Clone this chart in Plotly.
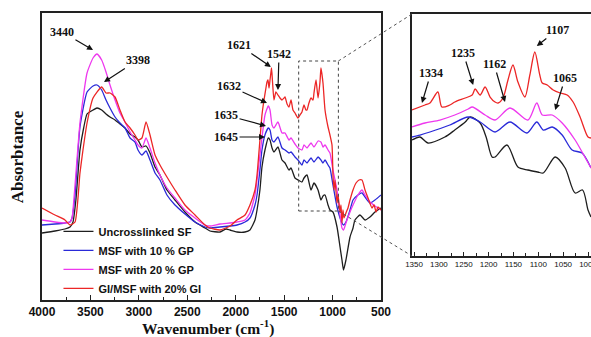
import plotly.graph_objects as go

# ---------------- main spectra (wavenumber, absorbance a.u.) ----------------
wn_sf = [4000, 3866, 3763, 3711, 3680, 3650, 3608, 3570, 3535, 3473, 3432, 3384, 3339, 3298, 3246, 3195,
         3143, 3091, 3040, 3009, 2968, 2926, 2885, 2833, 2782, 2710, 2627, 2524, 2420, 2317, 2266, 2162,
         2100, 2059, 1987, 1904, 1853, 1801, 1780, 1750, 1729, 1698, 1664, 1646, 1625, 1605, 1564, 1522,
         1491, 1450, 1429, 1388, 1357, 1316, 1295, 1264, 1223, 1192, 1150, 1120, 1099, 1078, 1047, 1027,
         996, 954, 923, 903, 887, 862, 820, 789, 769, 717, 665, 614, 562, 500]
ab_sf = [67, 69, 71, 73, 78, 100, 150, 172, 186, 190, 192, 190, 186, 183, 180, 176,
         172, 166, 163, 160, 153, 154, 147, 133, 125, 110, 100, 88, 78, 72, 69, 68,
         71, 70, 68, 68, 70, 80, 90, 110, 133, 150, 162, 160, 152, 148, 153, 140,
         137, 130, 132, 122, 120, 118, 122, 125, 110, 117, 110, 100, 104, 105, 95, 90,
         88, 73, 53, 40, 30, 40, 63, 72, 80, 85, 80, 83, 88, 92]

wn_gp10 = [4000, 3866, 3763, 3711, 3690, 3659, 3608, 3535, 3473, 3432, 3384, 3339, 3298, 3246, 3195, 3143,
           3091, 3040, 3009, 2968, 2926, 2885, 2833, 2782, 2710, 2627, 2524, 2420, 2317, 2266, 2162, 2059,
           1987, 1904, 1853, 1801, 1780, 1750, 1729, 1698, 1664, 1646, 1625, 1605, 1564, 1522, 1491, 1450,
           1429, 1388, 1357, 1316, 1295, 1264, 1223, 1192, 1150, 1120, 1099, 1078, 1047, 1027, 996, 954,
           903, 887, 862, 820, 789, 738, 696, 665, 614, 562, 500]
ab_gp10 = [75, 76, 77, 78, 82, 105, 173, 208, 214, 215, 210, 200, 192, 183, 177, 172,
           162, 158, 150, 145, 149, 140, 127, 120, 105, 95, 86, 78, 73, 72, 73, 74,
           75, 78, 82, 95, 105, 130, 150, 165, 172, 170, 160, 158, 163, 152, 150, 147,
           148, 143, 140, 135, 140, 137, 142, 138, 143, 140, 137, 140, 135, 132, 115, 93,
           77, 75, 78, 90, 100, 105, 107, 103, 97, 100, 105]

wn_gp20 = [4000, 3866, 3763, 3711, 3690, 3659, 3608, 3535, 3473, 3432, 3384, 3339, 3298, 3246, 3195, 3143,
           3091, 3040, 3009, 2968, 2926, 2885, 2833, 2782, 2710, 2627, 2524, 2420, 2317, 2266, 2162, 2059,
           1987, 1904, 1853, 1801, 1780, 1750, 1729, 1698, 1664, 1646, 1625, 1605, 1564, 1522, 1491, 1450,
           1429, 1388, 1357, 1316, 1295, 1264, 1223, 1192, 1150, 1120, 1099, 1078, 1047, 1027, 996, 954,
           923, 903, 887, 862, 820, 789, 738, 696, 665, 614, 562, 500]
ab_gp20 = [80, 78, 77, 78, 82, 115, 177, 227, 242, 246, 240, 228, 215, 200, 187, 178,
           168, 160, 155, 152, 162, 152, 137, 125, 112, 102, 90, 82, 75, 74, 76, 77,
           78, 80, 87, 105, 120, 145, 162, 185, 194, 190, 175, 172, 178, 167, 167, 160,
           162, 156, 152, 150, 155, 152, 157, 153, 159, 158, 153, 155, 150, 147, 130, 110,
           85, 72, 70, 77, 88, 95, 105, 110, 105, 98, 94, 90]

wn_gi = [4000, 3866, 3763, 3711, 3659, 3608, 3577, 3535, 3473, 3384, 3339, 3298, 3246, 3195, 3143, 3091,
         3040, 3009, 2968, 2926, 2885, 2833, 2782, 2710, 2627, 2524, 2420, 2317, 2266, 2162, 2059, 1987,
         1904, 1853, 1801, 1780, 1750, 1729, 1708, 1688, 1677, 1667, 1656, 1646, 1636, 1630, 1620, 1605,
         1585, 1564, 1543, 1522, 1501, 1491, 1470, 1450, 1429, 1409, 1388, 1357, 1336, 1316, 1295, 1275,
         1264, 1244, 1223, 1202, 1192, 1171, 1150, 1130, 1120, 1099, 1078, 1047, 1027, 1006, 996, 985,
         975, 954, 944, 923, 913, 903, 893, 882, 862, 841, 820, 789, 758, 727, 696, 665, 634, 593, 572,
         551, 531, 500]
ab_gi = [92, 85, 80, 75, 78, 127, 150, 177, 202, 213, 207, 207, 203, 190, 178, 172,
         165, 160, 162, 178, 165, 145, 135, 123, 110, 95, 85, 75, 72, 70, 74, 80,
         85, 95, 110, 125, 160, 185, 200, 212, 218, 220, 212, 220, 228, 232, 218, 200,
         208, 205, 202, 200, 202, 203, 196, 193, 200, 190, 187, 182, 185, 188, 195, 190,
         190, 197, 202, 200, 207, 220, 202, 218, 232, 217, 190, 173, 165, 155, 125, 110,
         120, 97, 105, 88, 95, 77, 90, 82, 87, 92, 100, 110, 117, 120, 120, 110, 102, 92, 95,
         88, 93, 90]

# ---------------- inset spectra (1350-1000 cm-1) ----------------
wn_in_sf = [1354, 1338, 1322, 1288, 1268, 1247, 1237, 1217, 1205, 1193, 1187, 1163, 1141, 1121, 1101,
            1090, 1066, 1046, 1026, 1011, 1000, 994]
ab_in_sf = [116, 119, 113, 119, 126, 134, 139, 133, 119, 99, 99, 111, 89, 86, 84,
            83, 99, 88, 63, 66, 46, 39]

wn_in_gp10 = [1354, 1338, 1318, 1278, 1241, 1217, 1187, 1157, 1123, 1103, 1090, 1072, 1052, 1032, 1012, 994]
ab_in_gp10 = [119, 121, 124, 131, 139, 134, 124, 134, 123, 134, 126, 129, 121, 106, 103, 88]

wn_in_gp20 = [1354, 1328, 1298, 1268, 1241, 1233, 1207, 1187, 1157, 1121, 1103, 1092, 1072, 1052, 1026, 1012, 994]
ab_in_gp20 = [129, 133, 136, 141, 147, 149, 141, 136, 148, 136, 153, 141, 141, 133, 116, 104, 88]

wn_in_gi = [1354, 1328, 1318, 1302, 1294, 1278, 1268, 1247, 1233, 1227, 1217, 1207, 1197, 1187, 1181,
            1171, 1161, 1151, 1141, 1127, 1117, 1107, 1097, 1092, 1082, 1070, 1056, 1042, 1030, 1016,
            1000, 994]
ab_in_gi = [146, 151, 153, 164, 149, 151, 154, 158, 161, 167, 161, 169, 159, 154, 153,
            158, 176, 191, 174, 159, 181, 204, 181, 173, 171, 166, 163, 161, 154, 139,
            119, 118]

names = ["Uncrosslinked SF", "MSF with 10 % GP", "MSF with 20 % GP", "GI/MSF with 20% GI"]
colors = ["#1e1e1e", "#2a2ad8", "#ee38ee", "#ec2626"]

main_x = [wn_sf, wn_gp10, wn_gp20, wn_gi]
main_y = [ab_sf, ab_gp10, ab_gp20, ab_gi]
in_x = [wn_in_sf, wn_in_gp10, wn_in_gp20, wn_in_gi]
in_y = [ab_in_sf, ab_in_gp10, ab_in_gp20, ab_in_gi]

# peak labels: (label, head wn, head y, text wn, text y)
main_peaks = [("3440", 3473, 250, 3794, 268),
              ("3398", 3360, 218, 3009, 240),
              ("1621", 1636, 233, 1966, 255),
              ("1542", 1564, 210, 1553, 246),
              ("1632", 1677, 197, 2069, 214),
              ("1635", 1687, 174, 2100, 185),
              ("1645", 1698, 163, 2100, 163)]
inset_peaks = [("1334", 1334, 153, 1316, 183),
               ("1235", 1231, 171, 1251, 203),
               ("1162", 1167, 154, 1189, 192),
               ("1107", 1103, 210, 1062, 226),
               ("1065", 1066, 146, 1046, 178)]

# zoom box in main axes
box_wn = [1350, 940]
box_ab = [89, 239]

W, H = 591, 337
ML, MR, MT, MB = 42, 0, 13, 37
main_xdom = [0, 0.6175]
main_xrange = [4000, 500]
main_yrange = [0, 287]
in_xdom = [0.674, 1.0]
in_ydom = [0.1533, 0.9965]
in_xrange = [1354, 994]
in_yrange = [0, 242]

fig = go.Figure()
for n, c, x, y in zip(names, colors, main_x, main_y):
    fig.add_trace(go.Scatter(x=x, y=y, mode="lines", name=n,
                             line=dict(color=c, width=1.3, shape="spline", smoothing=0.5),
                             xaxis="x", yaxis="y"))
for n, c, x, y in zip(names, colors, in_x, in_y):
    fig.add_trace(go.Scatter(x=x, y=y, mode="lines", name=n, showlegend=False,
                             line=dict(color=c, width=1.3, shape="spline", smoothing=0.8),
                             xaxis="x2", yaxis="y2"))

serif = dict(family="Liberation Serif, Times New Roman, serif", weight="bold", color="#111")
sans = dict(family="Liberation Sans, Arial, sans-serif", weight="bold", color="#111")

ann = []
for lab, hx, hy, tx, ty in main_peaks:
    ann.append(dict(x=hx, y=hy, ax=tx, ay=ty, xref="x", yref="y", axref="x", ayref="y",
                    text=lab, showarrow=True, arrowhead=2, arrowsize=1, arrowwidth=1.2,
                    arrowcolor="#111", font=dict(size=12, **serif)))
for lab, hx, hy, tx, ty in inset_peaks:
    ann.append(dict(x=hx, y=hy, ax=tx, ay=ty, xref="x2", yref="y2", axref="x2", ayref="y2",
                    text=lab, showarrow=True, arrowhead=2, arrowsize=1, arrowwidth=1.2,
                    arrowcolor="#111", font=dict(size=12, **serif)))

ann.append(dict(text="Wavenumber (cm<sup>-1</sup>)", xref="paper", yref="paper",
                x=0.302, y=-0.095, xanchor="center", yanchor="middle",
                showarrow=False, font=dict(size=15.5, **serif)))
ann.append(dict(text="Absorbtance", xref="paper", yref="paper", x=-0.044, y=0.5,
                textangle=-90, xanchor="center", yanchor="middle",
                showarrow=False, font=dict(size=17, **serif)))


def px_main(wn):
    return main_xdom[0] + (main_xrange[0] - wn) / (main_xrange[0] - main_xrange[1]) * (main_xdom[1] - main_xdom[0])


def py_main(a):
    return (a - main_yrange[0]) / (main_yrange[1] - main_yrange[0])


shapes = [
    dict(type="rect", xref="x", yref="y", x0=box_wn[0], x1=box_wn[1], y0=box_ab[0], y1=box_ab[1],
         line=dict(color="#444", width=1, dash="dot")),
    dict(type="line", xref="paper", yref="paper", x0=px_main(box_wn[1]), y0=py_main(box_ab[1]),
         x1=in_xdom[0], y1=in_ydom[1], line=dict(color="#555", width=1, dash="dot")),
    dict(type="line", xref="paper", yref="paper", x0=px_main(box_wn[1]), y0=py_main(box_ab[0]),
         x1=in_xdom[0], y1=in_ydom[0], line=dict(color="#555", width=1, dash="dot")),
]

fig.update_layout(
    width=W, height=H, margin=dict(l=ML, r=MR, t=MT, b=MB, autoexpand=False),
    paper_bgcolor="white", plot_bgcolor="white",
    showlegend=True,
    legend=dict(x=0.03, y=-0.01, xanchor="left", yanchor="bottom", bgcolor="rgba(0,0,0,0)",
                font=dict(size=11, **sans), tracegroupgap=0),
    xaxis=dict(domain=main_xdom, range=main_xrange, anchor="y", showline=True, mirror=True,
               linecolor="#222", linewidth=1.5, ticks="inside", ticklen=5, tickwidth=1.2,
               tickcolor="#222", tick0=0, dtick=500, automargin=False,
               minor=dict(dtick=250, ticks="inside", ticklen=3, tickcolor="#222"),
               tickfont=dict(size=12, **sans), showgrid=False, zeroline=False),
    yaxis=dict(domain=[0, 1], range=main_yrange, anchor="x", showline=True, mirror=True,
               linecolor="#222", linewidth=1.5, ticks="", showticklabels=False, automargin=False,
               showgrid=False, zeroline=False),
    xaxis2=dict(domain=in_xdom, range=in_xrange, anchor="y2", showline=True, mirror=True,
                linecolor="#222", linewidth=1.5, ticks="inside", ticklen=4, tickwidth=1,
                tickcolor="#222", tick0=1000, dtick=50, automargin=False,
                ticklabeloverflow="allow",
                minor=dict(dtick=25, ticks="inside", ticklen=3, tickcolor="#222"),
                tickfont=dict(size=8, family="Liberation Sans Narrow, Liberation Sans, Arial", color="#111"),
                showgrid=False, zeroline=False),
    yaxis2=dict(domain=in_ydom, range=in_yrange, anchor="x2", showline=True, mirror=False,
                linecolor="#222", linewidth=1.5, ticks="", showticklabels=False, automargin=False,
                showgrid=False, zeroline=False),
    annotations=ann, shapes=shapes,
)

fig.write_html("out.html")
